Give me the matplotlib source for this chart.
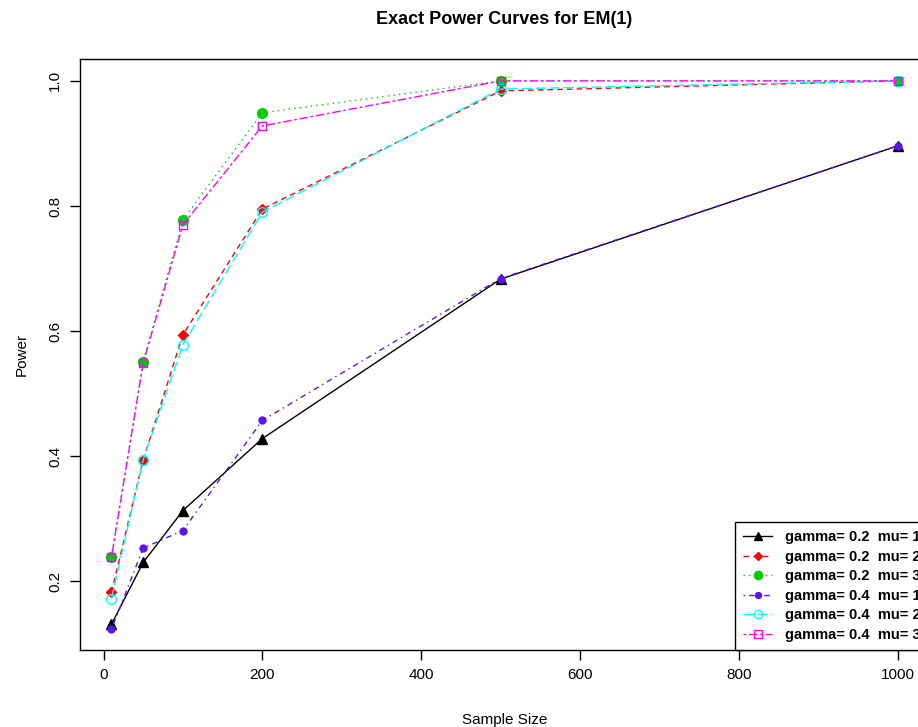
import matplotlib
matplotlib.use("Agg")
import matplotlib.pyplot as plt

plt.rcParams['font.family'] = ['Liberation Sans', 'DejaVu Sans']

n = [10, 50, 100, 200, 500, 1000]

# power values
g2_mu1 = [0.131, 0.230, 0.313, 0.428, 0.683, 0.896]
g2_mu2 = [0.182, 0.394, 0.594, 0.795, 0.984, 1.000]
g2_mu3 = [0.238, 0.551, 0.778, 0.949, 1.000, 1.000]
g4_mu1 = [0.123, 0.253, 0.281, 0.457, 0.684, 0.896]
g4_mu2 = [0.172, 0.394, 0.578, 0.790, 0.987, 1.000]
g4_mu3 = [0.238, 0.549, 0.770, 0.928, 1.000, 1.000]

labels = ["gamma= 0.2  mu= 1", "gamma= 0.2  mu= 2", "gamma= 0.2  mu= 3",
          "gamma= 0.4  mu= 1", "gamma= 0.4  mu= 2", "gamma= 0.4  mu= 3"]

series = [g2_mu1, g2_mu2, g2_mu3, g4_mu1, g4_mu2, g4_mu3]
cols = ['black', '#ff0000', '#00cd00', '#5a14ea', '#00ffff', '#ff00ff']
ltys = ['-', (0, (4, 3)), (0, (1, 3)), (0, (1, 3, 4, 3)), (0, (7, 3)), (0, (2, 2, 6, 2))]
marks = ['^', 'D', 'o', 'o', 'o', 's']
msize = [7, 5, 7, 5, 7, 6]
mfill = [True, True, True, True, False, False]

fig = plt.figure(figsize=(9.18, 7.27), dpi=100)
W, H = 918, 727
ax = fig.add_axes([80 / W, 1 - 650 / H, (929 - 80) / W, (650 - 59) / H])

for y, c, ls, m, ms, f, lab in zip(series, cols, ltys, marks, msize, mfill, labels):
    ax.plot(n, y, color=c, linestyle=ls, linewidth=1, marker=m, markersize=ms,
            markerfacecolor=c if f else 'none', markeredgecolor=c,
            markeredgewidth=1, label=lab)

ax.set_xlim(-29.6, 1039.6)
ax.set_ylim(0.09, 1.035)
ax.set_xticks([0, 200, 400, 600, 800, 1000])
ax.set_yticks([0.2, 0.4, 0.6, 0.8, 1.0])
ax.set_yticklabels(['0.2', '0.4', '0.6', '0.8', '1.0'], rotation=90, va='center')
ax.tick_params(direction='out', length=7, width=1, labelsize=11, pad=6, colors='black')
for s in ax.spines.values():
    s.set_linewidth(1)
    s.set_color('black')

ax.set_xlabel("Sample Size", fontsize=11, labelpad=22)
ax.set_ylabel("Power", fontsize=11, labelpad=14)
fig.text(504 / W, 1 - 20 / H, "Exact Power Curves for EM(1)", ha='center', va='center',
         fontsize=13, fontweight='bold')

leg = ax.legend(loc='lower right', borderaxespad=0, fancybox=False, edgecolor='black',
                framealpha=1, prop={'size': 10.5, 'weight': 'bold'}, handlelength=2.0,
                labelspacing=0.38, borderpad=0.55, handletextpad=0.9, markerscale=0.85)
leg.get_frame().set_linewidth(1)

fig.savefig("out.png", dpi=100, facecolor='white')
